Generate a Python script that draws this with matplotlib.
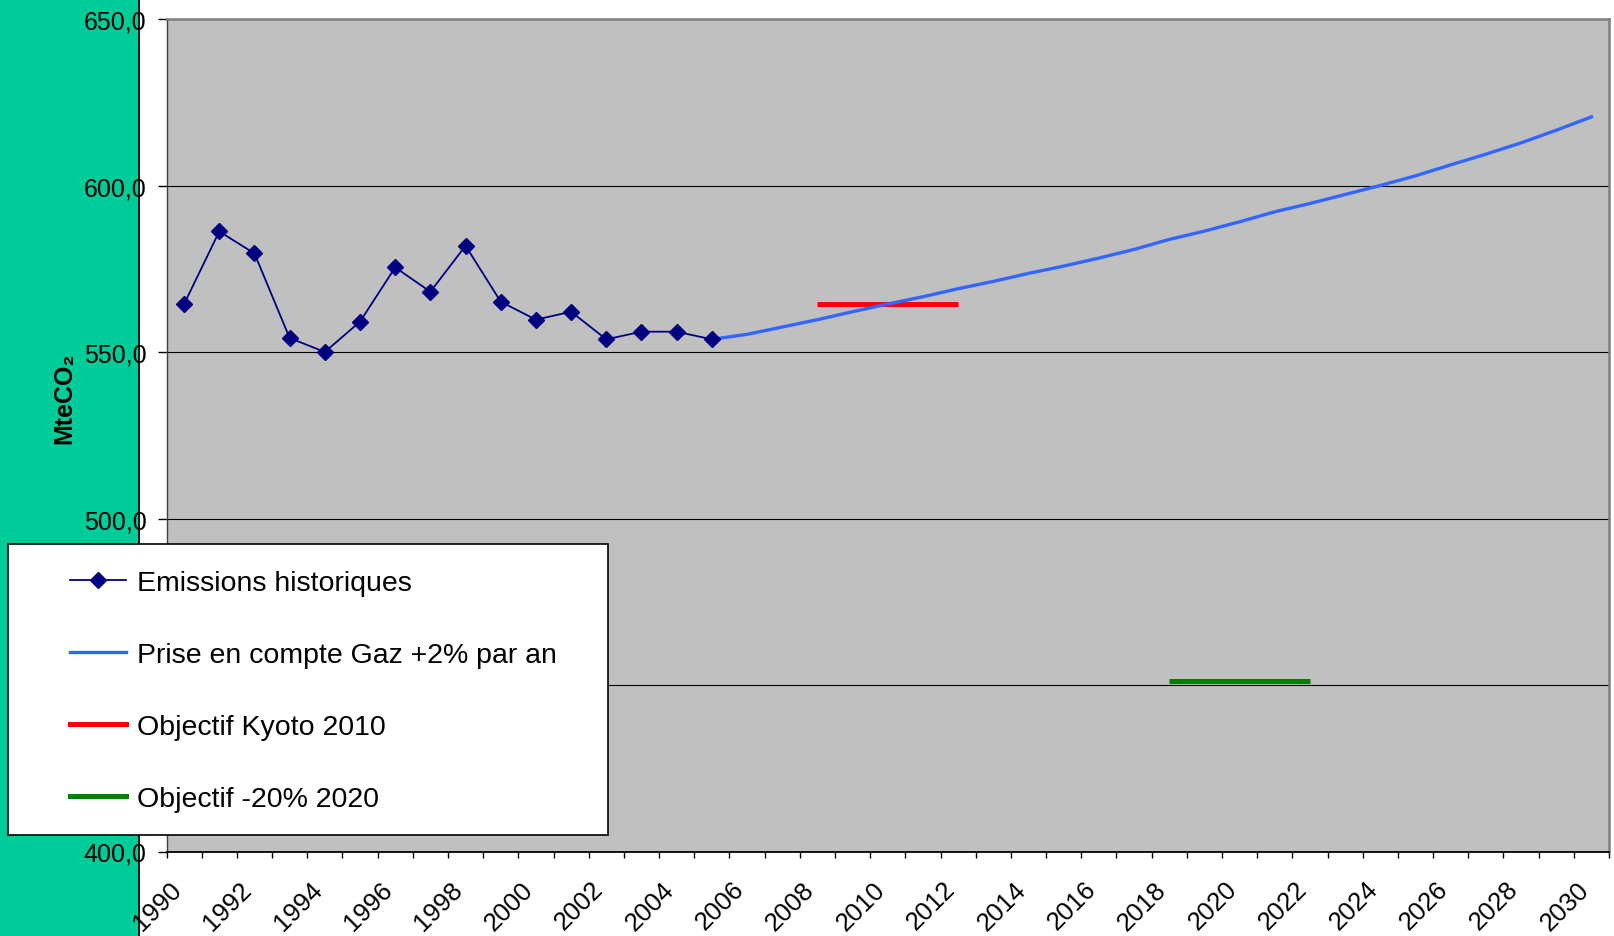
import matplotlib
matplotlib.use("Agg")
import matplotlib.pyplot as plt
import matplotlib.transforms as mtransforms
from matplotlib.lines import Line2D
from matplotlib.patches import Rectangle

# chart data
years = list(range(1990, 2031))
hist_years = list(range(1990, 2006))
hist_values = [564.4, 586.2, 579.6, 554.2, 550.0, 559.1, 575.4, 568.1,
               581.9, 565.1, 559.7, 562.1, 553.8, 556.1, 556.1, 553.8]
proj_years = list(range(2005, 2031))
proj_values = [553.8, 555.3, 557.5, 559.7, 562.1, 564.4, 566.6, 569.0,
               571.2, 573.6, 575.8, 578.2, 580.8, 583.8, 586.3, 589.1,
               592.1, 594.6, 597.3, 600.0, 602.9, 606.2, 609.4, 612.8,
               616.6, 620.6]
kyoto_years = list(range(2008, 2013))
kyoto_values = [564.4] * 5
target_years = list(range(2018, 2023))
target_values = [451.3] * 5
y_ticks = [400, 450, 500, 550, 600, 650]
labels = ["Emissions historiques", "Prise en compte Gaz +2% par an",
          "Objectif Kyoto 2010", "Objectif -20% 2020"]

plt.rcParams['font.family'] = ['Liberation Sans', 'DejaVu Sans']

W, H = 1614, 937
fig = plt.figure(figsize=(W / 100, H / 100), dpi=100)


def fx(px):
    return px / W


def fy(py):
    return 1 - py / H


# green band on the left with its black edge
fig.patches.append(Rectangle((0, 0), fx(138), 1, transform=fig.transFigure,
                             facecolor='#00CC99', edgecolor='none', zorder=-2))
fig.lines.append(Line2D([fx(138.5), fx(138.5)], [0, 1], transform=fig.transFigure,
                        color='black', lw=1.3, zorder=-1))

ax = fig.add_axes([fx(166.5), fy(852.5), fx(1609 - 166.5), (852.5 - 20) / H])
ax.set_facecolor('#C0C0C0')

idx = {y: i for i, y in enumerate(years)}
ax.plot([idx[y] for y in kyoto_years], kyoto_values, color='#FF0000', lw=3.6,
        solid_capstyle='butt', zorder=3)
ax.plot([idx[y] for y in target_years], target_values, color='#008000', lw=3.6,
        solid_capstyle='butt', zorder=3)
ax.plot([idx[y] for y in proj_years], proj_values, color='#3366FF', lw=2.4,
        zorder=4)
ax.plot([idx[y] for y in hist_years], hist_values, color='#000080', lw=1.3,
        marker='D', markersize=8, zorder=5)

ax.set_xlim(-0.5, len(years) - 0.5)
ax.set_ylim(400, 650)

# y axis
ax.set_yticks(y_ticks)
ax.set_yticklabels([f"{v:.1f}".replace('.', ',') for v in y_ticks])
ax.tick_params(axis='y', length=6.5, width=1, color='black', pad=8,
               labelsize=18)
ax.yaxis.grid(True, color='black', lw=0.8)
ax.set_axisbelow(True)

# x axis: ticks on category boundaries, labels every other year
ax.set_xticks([i - 0.5 for i in range(len(years) + 1)])
ax.set_xticklabels([])
ax.tick_params(axis='x', which='major', length=4.5, width=1, color='black')
ax.set_xticks(list(range(0, len(years), 2)), minor=True)
ax.set_xticklabels([str(y) for y in years[::2]], minor=True)
ax.tick_params(axis='x', which='minor', length=0, pad=18, labelsize=18.5)
shift = mtransforms.ScaledTranslation(-15 / 100, 0, fig.dpi_scale_trans)
for lab in ax.get_xticklabels(minor=True):
    lab.set_rotation(45)
    lab.set_rotation_mode('anchor')
    lab.set_ha('right')
    lab.set_va('top')
    lab.set_transform(lab.get_transform() + shift)

for side in ['top', 'right']:
    ax.spines[side].set_color('#808080')
    ax.spines[side].set_linewidth(1.8)
ax.spines['left'].set_color('#404040')
ax.spines['left'].set_linewidth(1)
ax.spines['bottom'].set_color('black')
ax.spines['bottom'].set_linewidth(1.3)

fig.text(fx(64), fy(398), "MteCO₂", rotation=90, ha='center', va='center',
         fontsize=18, fontweight='bold')

# legend box
fig.patches.append(Rectangle((fx(7.5), fy(836)), fx(608 - 7.5), (836 - 545) / H,
                             transform=fig.transFigure, facecolor='white',
                             edgecolor='black', lw=1.2, zorder=6))
handles = [
    Line2D([], [], color='#000080', lw=1.3, marker='D', markersize=8),
    Line2D([], [], color='#3366FF', lw=2.4),
    Line2D([], [], color='#FF0000', lw=3.6),
    Line2D([], [], color='#008000', lw=3.6),
]
leg = fig.legend(handles, labels, loc='upper left',
                 bbox_to_anchor=(fx(70), fy(571)), frameon=False,
                 fontsize=20.5, borderpad=0, borderaxespad=0, numpoints=1,
                 handlelength=1.95, handletextpad=0.4, labelspacing=1.62)
leg.set_zorder(7)

fig.savefig("out.png", dpi=100)
